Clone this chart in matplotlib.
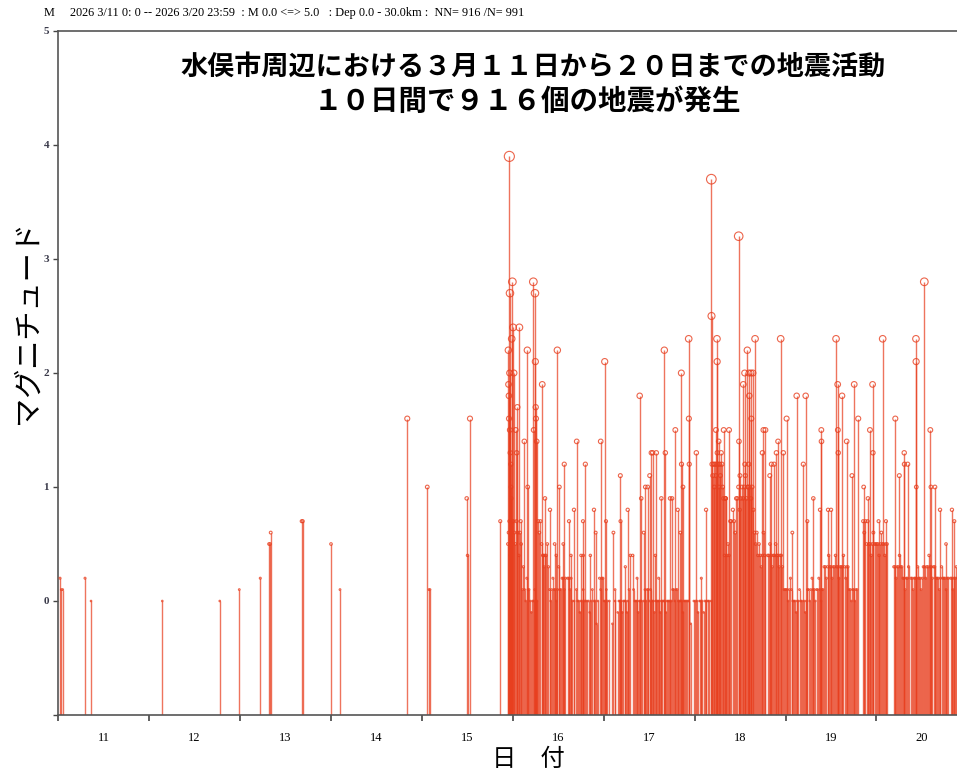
import numpy as np
import matplotlib
import matplotlib.pyplot as plt

matplotlib.use('Agg')

RED = '#e83f1f'

# events before the swarm: time (day of March, decimal) and magnitude
early_t = [11.019, 11.033, 11.048, 11.294, 11.360, 12.144, 12.776, 12.991, 13.222, 13.318,
           13.330, 13.337, 13.678, 13.689, 14.000, 14.099, 14.839, 15.059, 15.078, 15.089,
           15.493, 15.502, 15.529, 15.862]
early_m = [0.2, 0.1, 0.1, 0.2, 0.0, 0.0, 0.0, 0.1, 0.2, 0.5,
           0.5, 0.6, 0.7, 0.7, 0.5, 0.1, 1.6, 1.0, 0.1, 0.1,
           0.9, 0.4, 1.6, 0.7]

# larger events of the swarm (3/15 night onward)
swarm_t = [15.951, 15.953, 15.957, 15.958, 15.962, 15.965, 15.967, 15.969, 15.972, 15.978,
           15.980, 15.983, 15.988, 15.995, 16.003, 16.013, 16.032, 16.043, 16.050, 16.072,
           16.087, 16.127, 16.160, 16.164, 16.226, 16.230, 16.244, 16.248, 16.252, 16.255,
           16.263, 16.324, 16.335, 16.354, 16.409, 16.460, 16.478, 16.490, 16.512, 16.555,
           16.566, 16.618, 16.640, 16.673, 16.703, 16.750, 16.772, 16.775, 16.798, 16.853,
           16.893, 16.912, 16.967, 17.011, 17.025,
           17.107, 17.125, 17.183, 17.185, 17.238, 17.264, 17.293, 17.319, 17.367, 17.396,
           17.413, 17.440, 17.458, 17.484, 17.506, 17.524, 17.539, 17.568, 17.579, 17.605,
           17.634, 17.667, 17.678, 17.730, 17.752, 17.788, 17.814, 17.843, 17.854, 17.856,
           17.872, 17.935, 17.937, 17.941, 18.019, 18.074, 18.126, 18.184, 18.186, 18.235,
           18.246, 18.248, 18.265, 18.320, 18.337,
           18.341, 18.379, 18.485, 18.488, 18.499, 18.536, 18.551, 18.553, 18.580, 18.588,
           18.598, 18.602, 18.620, 18.624, 18.642, 18.665, 18.746, 18.757, 18.779, 18.827,
           18.845, 18.874, 18.900, 18.918, 18.947, 18.976, 19.012, 19.075, 19.123, 19.196,
           19.222, 19.240, 19.306, 19.380, 19.394, 19.396, 19.468, 19.501,
           19.556, 19.574, 19.576, 19.580, 19.622, 19.673, 19.731, 19.756, 19.800, 19.860,
           19.907, 19.929, 19.958, 19.962, 20.024, 20.069, 20.105, 20.208, 20.252, 20.306,
           20.308, 20.344, 20.435, 20.437, 20.439, 20.527, 20.593, 20.600, 20.644, 20.700,
           20.766, 20.831, 20.857]
swarm_m = [2.2, 1.9, 1.8, 1.6, 3.9, 2.0, 1.5, 2.7, 1.3, 1.2,
           1.0, 0.9, 2.3, 2.8, 2.4, 2.0, 1.5, 1.3, 1.7, 2.4,
           0.7, 1.4, 2.2, 1.0, 2.8, 1.5, 2.7, 2.1, 1.7, 1.6,
           1.4, 1.9, 0.4, 0.9, 0.8, 0.5, 0.4, 2.2, 1.0, 0.5,
           1.2, 0.7, 0.4, 0.8, 1.4, 0.4, 0.7, 0.4, 1.2, 0.4,
           0.8, 0.6, 1.4, 2.1, 0.7,
           0.6, 0.1, 1.1, 0.7, 0.3, 0.8, 0.4, 0.4, 0.2, 1.8,
           0.9, 0.6, 1.0, 1.0, 1.1, 1.3, 1.3, 0.4, 1.3, 0.2,
           0.9, 2.2, 1.3, 0.9, 0.9, 1.5, 0.8, 0.6, 2.0, 1.2,
           1.0, 2.3, 1.6, 1.2, 1.3, 0.2, 0.8, 3.7, 2.5, 1.5,
           2.3, 2.1, 1.4, 1.5, 0.9,
           0.9, 1.5, 3.2, 1.4, 1.1, 1.9, 2.0, 1.2, 2.2, 1.0,
           2.0, 1.8, 2.0, 1.6, 2.0, 2.3, 1.3, 1.5, 1.5, 1.1,
           1.2, 1.2, 1.3, 1.4, 2.3, 1.3, 1.6, 0.6, 1.8, 1.2,
           1.8, 0.7, 0.9, 0.8, 1.5, 1.4, 0.8, 0.8,
           2.3, 1.9, 1.5, 1.3, 1.8, 1.4, 1.1, 1.9, 1.6, 1.0,
           0.9, 1.5, 1.9, 1.3, 0.7, 2.3, 0.7, 1.6, 1.1, 1.3,
           1.2, 1.2, 2.3, 2.1, 1.0, 2.8, 1.5, 1.0, 1.0, 0.8,
           0.5, 0.8, 0.7]

# small events of the swarm, by day: hour of day and magnitude
bg15_hour = [22.7, 22.9, 23.1, 23.3, 23.5, 23.7, 23.9]
bg15_mag = [0.5, 0.6, 0.7, 0.4, 0.6, 0.5, 0.7]

bg16_hour = [0.1, 0.4, 0.7, 1.0, 1.3, 1.6, 1.9, 2.2,
             2.5, 2.8, 3.1, 3.4, 3.7, 4.0, 4.3,
             4.6, 4.9, 5.2, 5.5, 5.8, 6.1, 6.4,
             6.7, 7.0, 7.3, 7.6,
             7.9, 8.2, 8.5, 8.8, 9.1, 9.4,
             9.7, 10.0, 10.3, 10.6, 10.9, 11.2, 11.5, 11.8, 12.1, 12.4, 12.7,
             13.0, 13.3, 13.6, 13.9, 14.5, 14.8, 15.1, 15.4, 15.7,
             16.2, 16.8, 17.1, 17.4, 17.7, 18.0, 18.3, 18.6, 18.9, 19.2,
             19.6, 20.0, 20.3, 20.7, 21.0, 21.4, 21.8, 22.1, 22.5,
             22.9, 23.2, 23.5, 23.8]
bg16_mag = [0.7, 0.6, 0.5, 0.7, 0.6, 0.4, 0.6, 0.5,
            0.1, 0.3, 0.1, 0.0, 0.2, 0.1, 0.1,
            0.0, -0.1, 0.0, 0.0, 0.1, 0.0, 0.0,
            0.7, 0.6, 0.7, 0.5,
            0.4, 0.3, 0.4, 0.4, 0.5, 0.3,
            0.1, 0.0, 0.1, 0.2, 0.1, 0.1, 0.0, 0.1, 0.3, 0.1, 0.1,
            0.2, 0.2, 0.1, 0.2, 0.2, 0.2, 0.1, 0.2, 0.0,
            0.0, 0.1, 0.0, 0.0, -0.1, 0.0, 0.0, 0.1, 0.0, 0.0,
            0.0, 0.0, -0.1, 0.0, 0.1, 0.0, 0.0, -0.2, 0.0,
            0.2, 0.1, 0.2, 0.2]

bg17_hour = [0.1, 0.4, 0.7, 1.0, 1.5, 2.3, 3.0, 3.7,
             4.0, 4.3, 4.6, 4.9, 5.2, 5.5, 5.8, 6.1, 6.4,
             6.7, 7.9, 8.2,
             8.5, 8.8, 9.1, 9.4, 9.7, 10.0, 10.6,
             10.9, 11.2, 11.5, 11.8, 12.1, 12.4,
             12.8, 13.1, 13.4, 13.7, 14.0, 14.3, 14.6, 14.9, 15.2, 15.5, 15.8, 16.1, 16.4,
             16.7, 17.0, 17.3, 17.6, 17.9,
             18.2, 18.5, 18.8, 19.1, 19.4, 19.7,
             20.0, 20.3, 20.6, 20.9, 21.2, 21.5, 21.8, 22.1, 22.4, 23.0, 23.8]
bg17_mag = [0.0, 0.0, 0.1, 0.0, 0.0, -0.2, 0.0, -0.1,
            0.0, 0.0, 0.0, -0.1, 0.0, 0.0, 0.0, -0.1, 0.0,
            0.1, 0.1, 0.0,
            0.0, 0.0, -0.1, 0.0, 0.0, 0.0, 0.0,
            0.1, 0.0, 0.1, 0.1, 0.0, 0.1,
            0.0, 0.0, -0.1, 0.0, 0.0, 0.0, 0.0, -0.1, 0.0, 0.0, 0.0, 0.0, -0.1,
            0.0, 0.0, 0.0, 0.0, 0.0,
            0.1, 0.1, 0.0, 0.1, 0.1, 0.0,
            0.0, 0.0, 0.0, -0.1, 0.0, 0.0, 0.0, 0.0, 0.0, -0.2, 0.0]

bg18_hour = [0.2, 0.6, 0.9, 1.3, 1.6, 2.0, 2.4, 2.7, 3.1, 3.5, 3.8, 4.4,
             4.6, 4.8, 5.0, 5.2, 5.4, 5.6, 5.8, 6.0, 6.2, 6.4, 6.6, 6.8, 7.0, 7.2, 7.4, 7.6,
             7.9, 8.2, 8.5, 8.8, 9.1, 9.4,
             9.6, 10.1, 10.4, 10.7, 11.0,
             11.3, 11.6, 11.9, 12.2, 12.5, 12.8,
             13.1, 13.4, 13.7, 14.0, 14.3, 14.6, 14.9, 15.2, 15.5,
             15.8, 16.1, 16.4,
             16.7, 17.0, 17.3, 17.6, 17.9, 18.2, 18.5,
             19.3, 19.6, 19.9, 20.2, 20.5, 20.8, 21.1, 21.4, 21.7, 22.0, 22.3, 22.6, 22.9, 23.2,
             23.6, 23.9]
bg18_mag = [0.0, 0.0, -0.1, 0.0, 0.0, 0.0, -0.1, 0.0, 0.0, 0.0, 0.0, 0.0,
            1.2, 1.1, 1.2, 1.0, 1.2, 1.1, 1.2, 1.3, 1.2, 1.0, 1.2, 1.1, 1.3, 1.2, 1.0, 0.9,
            0.4, 0.9, 0.4, 0.5, 0.4, 0.7,
            0.7, 0.8, 0.7, 0.6, 0.9,
            0.9, 1.0, 0.8, 0.9, 1.0, 0.9,
            1.0, 1.1, 0.9, 1.0, 1.2, 1.0, 0.9, 1.0, 0.8,
            0.6, 0.5, 0.6,
            0.4, 0.5, 0.4, 0.3, 0.4, 0.6, 0.4,
            0.4, 0.4, 0.5, 0.4, 0.3, 0.4, 0.4, 0.5, 0.4, 0.4, 0.3, 0.4, 0.4, 0.3,
            0.1, 0.1]

bg19_hour = [0.1, 0.4, 0.7, 1.0, 1.3, 1.6, 1.9,
             2.2, 2.5, 2.8, 3.1, 3.4, 3.7, 4.0, 4.3, 4.9, 5.2, 5.5,
             5.8, 6.1, 6.4, 6.7, 7.0, 7.3, 7.6, 7.9, 8.2, 8.5, 8.8, 9.1, 9.4, 9.7, 9.9,
             10.2, 10.5, 10.8, 11.1, 11.4, 11.7, 12.0, 12.3, 12.6, 12.9, 13.2, 13.5, 13.8,
             14.1, 14.4, 14.7, 15.0, 15.3, 15.6, 15.9, 16.2, 16.5,
             16.8, 17.1, 17.4, 17.7, 18.0, 18.3, 18.6, 18.9,
             20.5, 20.8, 21.1, 21.4, 21.7,
             22.0, 22.3, 22.6, 22.9, 23.2, 23.5, 23.8]
bg19_mag = [0.1, 0.1, 0.0, 0.1, 0.2, 0.1, 0.0,
            0.0, 0.0, -0.1, 0.0, 0.0, 0.1, 0.0, 0.0, 0.0, -0.1, 0.0,
            0.1, 0.1, 0.0, 0.1, 0.2, 0.1, 0.1, 0.0, 0.1, 0.1, 0.2, 0.1, 0.0, 0.1, 0.1,
            0.3, 0.3, 0.2, 0.3, 0.4, 0.3, 0.3, 0.2, 0.3, 0.3, 0.4, 0.3, 0.3,
            0.2, 0.3, 0.3, 0.3, 0.4, 0.3, 0.2, 0.3, 0.3,
            0.1, 0.1, 0.0, 0.1, 0.1, 0.0, 0.1, 0.1,
            0.7, 0.6, 0.7, 0.5, 0.7,
            0.5, 0.5, 0.4, 0.5, 0.6, 0.5, 0.5]

bg20_hour = [0.1, 0.4, 0.7, 1.0, 1.3, 1.6, 1.9, 2.2, 2.5, 2.8,
             4.6, 4.9, 5.2, 5.5, 5.8, 6.1, 6.4, 6.7,
             7.0, 7.3, 7.6, 7.9, 8.2, 8.5, 9.1, 9.4, 9.7, 10.0, 10.3, 10.6, 10.9, 11.2,
             11.5, 11.8, 12.1,
             12.4, 12.7, 13.0, 13.3, 13.6, 13.9, 14.2, 14.5, 14.8, 15.1, 15.4,
             15.7, 16.0, 16.3, 16.6, 16.9, 17.2, 17.5, 17.8, 18.1, 18.4, 18.7, 19.0,
             19.6, 19.9, 20.2, 20.5, 20.8, 21.1, 21.4]
bg20_mag = [0.5, 0.5, 0.4, 0.5, 0.6, 0.5, 0.5, 0.4, 0.5, 0.5,
            0.3, 0.3, 0.2, 0.3, 0.3, 0.4, 0.3, 0.3,
            0.2, 0.2, 0.1, 0.2, 0.2, 0.3, 0.2, 0.2, 0.1, 0.2, 0.2, 0.2, 0.3, 0.2,
            0.2, 0.1, 0.2,
            0.3, 0.3, 0.2, 0.3, 0.3, 0.4, 0.3, 0.3, 0.2, 0.3, 0.3,
            0.2, 0.2, 0.2, 0.1, 0.2, 0.3, 0.2, 0.2, 0.2, 0.1, 0.2, 0.2,
            0.2, 0.2, 0.1, 0.2, 0.2, 0.3, 0.2]

day_labels = ['11', '12', '13', '14', '15', '16', '17', '18', '19', '20']
header = '2026 3/11 0: 0 -- 2026 3/20 23:59  : M 0.0 <=> 5.0   : Dep 0.0 - 30.0km :  NN= 916 /N= 991'
title_1 = '水俣市周辺における３月１１日から２０日までの地震活動'
title_2 = '１０日間で９１６個の地震が発生'


def collect():
    t = list(early_t) + list(swarm_t)
    m = list(early_m) + list(swarm_m)
    for day, hours, mags in [(15, bg15_hour, bg15_mag), (16, bg16_hour, bg16_mag),
                             (17, bg17_hour, bg17_mag), (18, bg18_hour, bg18_mag),
                             (19, bg19_hour, bg19_mag), (20, bg20_hour, bg20_mag)]:
        t += [day + h / 24.0 for h in hours]
        m += list(mags)
    return np.array(t), np.array(m)


times, mags = collect()

fig = plt.figure(figsize=(9.57, 7.74), dpi=100)
W, H = 957.0, 774.0
# axis spans 3/11 0:00 .. 3/21 0:00; the right end runs past the picture edge
ax = fig.add_axes([58.3 / W, 59 / H, 909 / W, (715 - 31) / H])
ax.set_xlim(11, 21)
ax.set_ylim(-1, 5)

ax.vlines(times, -1, mags, colors=RED, alpha=0.72, linewidth=1.0, zorder=2)
diam_px = 1.5 + 2.2 * np.clip(mags, 0, None)
ax.scatter(times, mags, s=(diam_px / 1.389) ** 2, facecolors='none',
           edgecolors=RED, linewidths=0.8, alpha=0.8, zorder=3)

for side in ['left', 'bottom', 'top', 'right']:
    ax.spines[side].set_color('#555555')
    ax.spines[side].set_linewidth(1.2)

ax.set_xticks(np.arange(11, 22))
ax.set_xticklabels([])
ax.set_xticks(np.arange(11.5, 21), minor=True)
ax.set_xticklabels(day_labels, minor=True, fontfamily='Liberation Serif', fontsize=9)
ax.tick_params(axis='x', which='major', direction='out', length=4, width=1.2, color='#444444')
ax.tick_params(axis='x', which='minor', length=0, pad=12)

ax.set_yticks(np.arange(-1, 6))
ax.set_yticklabels([''] + [str(v) for v in range(0, 6)], fontfamily='Liberation Serif',
                   fontsize=8, fontweight='bold', color='#3a3a4a')
ax.tick_params(axis='y', direction='out', length=3.6, width=1.0, color='#444444', pad=3)

fig.text(44 / W, 1 - 13 / H, 'M', fontfamily='Liberation Serif', fontsize=8.8, va='center')
fig.text(70 / W, 1 - 13 / H, header, fontfamily='Liberation Serif', fontsize=8.8, va='center')

fig.text(533 / W, 1 - 67 / H, title_1, fontfamily='Noto Sans CJK JP', fontweight='bold',
         fontsize=19.5, ha='center', va='center')
fig.text(527 / W, 1 - 102 / H, title_2, fontfamily='Noto Sans CJK JP', fontweight='bold',
         fontsize=20.5, ha='center', va='center')

fig.text(28 / W, 1 - 322 / H, 'マグニチュード', fontfamily='Noto Sans CJK JP', fontsize=21,
         rotation=90, ha='center', va='center')
fig.text(528 / W, 1 - 759 / H, '日　付', fontfamily='Noto Sans CJK JP', fontsize=17.5,
         ha='center', va='center')

fig.savefig('out.png', dpi=100)
